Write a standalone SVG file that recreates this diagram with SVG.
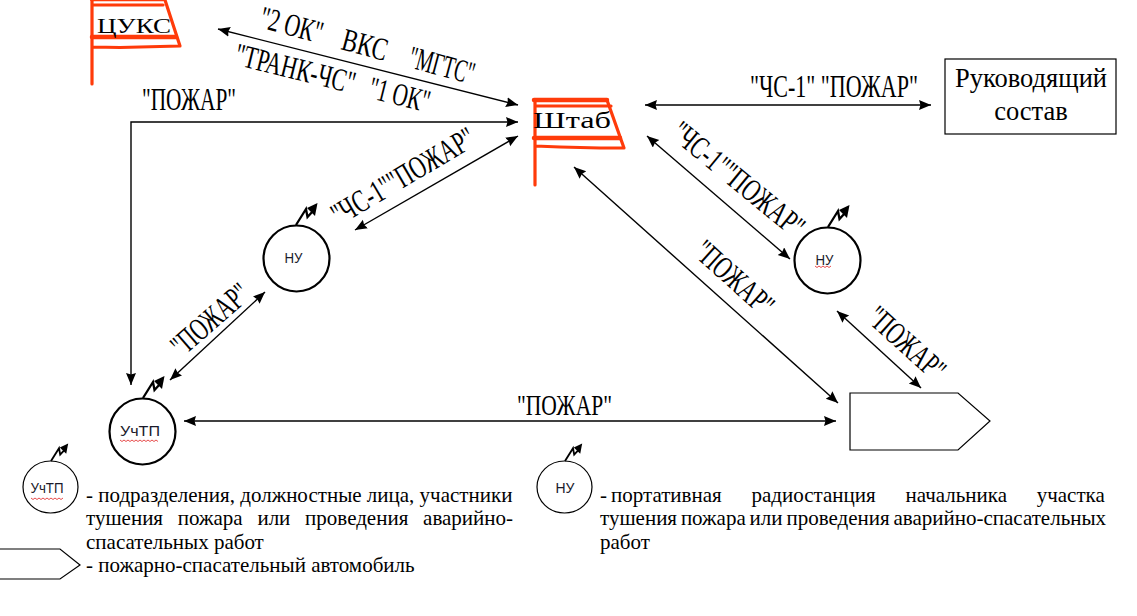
<svg xmlns="http://www.w3.org/2000/svg" width="1137" height="616" viewBox="0 0 1137 616">
<style>
.c{fill:none;stroke:#000;stroke-width:1.4}
.n{fill:#fff;stroke:#000;stroke-width:2.2}
.t{fill:#fff;stroke:#000;stroke-width:1.2}
.f{fill:none;stroke:#ff3b0a;stroke-linecap:round;stroke-linejoin:round}
.s{font-family:"Liberation Serif",serif;fill:#000}
.l{font-size:32px}
.d{font-size:21px}
.a{font-family:"Liberation Sans",sans-serif;font-size:14px;fill:#1a1a2a;text-anchor:middle}
.w{fill:none;stroke:#e02020;stroke-width:.8}
</style>
<defs>
<marker id="m" markerUnits="userSpaceOnUse" markerWidth="13" markerHeight="11" refX="12" refY="5" orient="auto-start-reverse"><path d="M0 0L12 5L0 10L1.500 5Z" fill="#000"/></marker>
<g id="z"><path d="M0 0L10-16L11.500-8L17-14" fill="none" stroke="#000" stroke-width="2.300"/><path d="M11-17L21.500-22L19-9Z" fill="#000"/></g>
</defs>
<rect width="1137" height="616" fill="#fff"/>
<g id="connectors">
<path class="c" d="M218 29L518 105" marker-start="url(#m)" marker-end="url(#m)"/>
<path class="c" d="M645 105L931 105" marker-start="url(#m)" marker-end="url(#m)"/>
<path class="c" d="M518 122L131 122L131 385" marker-start="url(#m)" marker-end="url(#m)"/>
<path class="c" d="M518 136L355 230" marker-start="url(#m)" marker-end="url(#m)"/>
<path class="c" d="M647 136L790 259" marker-start="url(#m)" marker-end="url(#m)"/>
<path class="c" d="M574 167L838 403" marker-start="url(#m)" marker-end="url(#m)"/>
<path class="c" d="M837 311L921 388" marker-start="url(#m)" marker-end="url(#m)"/>
<path class="c" d="M265 292L170 380" marker-start="url(#m)" marker-end="url(#m)"/>
<path class="c" d="M184 421L836 421" marker-start="url(#m)" marker-end="url(#m)"/>
</g>
<g id="node-cuks">
<path class="f" stroke-width="3.200" d="M92 84V0M92 5H163M92 47L120 47.500L180 46L165 0"/>
<path class="f" stroke-width="4.500" d="M92 37H176M92 -1H163"/>
<text class="s" x="97" y="33" font-size="22" textLength="74" lengthAdjust="spacingAndGlyphs">ЦУКС</text>
</g>
<g id="node-shtab">
<path class="f" stroke-width="4.500" d="M534 100H607M534 138H620"/>
<path class="f" stroke-width="3.200" d="M535 185V100M535 106H611M535 146L560 147L600 148H624L607 100"/>
<text class="s" x="533" y="128" font-size="24" textLength="78" lengthAdjust="spacingAndGlyphs">Штаб</text>
</g>
<g id="node-ruk">
<rect class="t" x="945" y="59" width="171" height="75"/>
<text class="s" x="1031" y="87" font-size="26.500" text-anchor="middle">Руководящий</text>
<text class="s" x="1031" y="120" font-size="26.500" text-anchor="middle">состав</text>
</g>
<g id="node-nu1">
<circle class="n" cx="296.500" cy="258.500" r="33"/>
<use href="#z" x="296" y="225"/>
<text class="a" x="293.500" y="263" textLength="18" lengthAdjust="spacingAndGlyphs">НУ</text>
</g>
<g id="node-nu2">
<circle class="n" cx="827.500" cy="260.500" r="33"/>
<use href="#z" x="828" y="227"/>
<text class="a" x="824.500" y="265" textLength="18" lengthAdjust="spacingAndGlyphs">НУ</text>
<path class="w" d="M815 266l2 1.500l2-1.500l2 1.500l2-1.500l2 1.500l2-1.500l2 1.500l2-1.500"/>
</g>
<g id="node-uctp">
<circle class="n" cx="142.500" cy="431.500" r="33"/>
<use href="#z" x="143" y="398"/>
<text class="a" x="140" y="436" font-size="15" textLength="40" lengthAdjust="spacingAndGlyphs">УчТП</text>
<path class="w" d="M120 440l2 1.500l2-1.500l2 1.500l2-1.500l2 1.500l2-1.500l2 1.500l2-1.500l2 1.500l2-1.500l2 1.500l2-1.500l2 1.500l2-1.500l2 1.500l2-1.500l2 1.500l2-1.500l2 1.500"/>
</g>
<g id="node-car">
<path class="t" d="M850 393H958L990 421L958 450H850Z"/>
</g>
<g id="labels">
<g transform="translate(258 27) rotate(15)">
<text class="s l" x="0" textLength="64" lengthAdjust="spacingAndGlyphs">"2 ОК"</text>
<text class="s l" x="85" textLength="46" lengthAdjust="spacingAndGlyphs">ВКС</text>
<text class="s l" x="154" textLength="67" lengthAdjust="spacingAndGlyphs">"МГТС"</text>
</g>
<g transform="translate(233 64) rotate(14)">
<text class="s l" x="0" textLength="123" lengthAdjust="spacingAndGlyphs">"ТРАНК-ЧС"</text>
<text class="s l" x="138" textLength="62" lengthAdjust="spacingAndGlyphs">"1 ОК"</text>
</g>
<text class="s l" x="142" y="110" textLength="94" lengthAdjust="spacingAndGlyphs">"ПОЖАР"</text>
<text class="s l" transform="translate(750 97) scale(.7 1)" textLength="240" lengthAdjust="spacingAndGlyphs">"ЧС-1" "ПОЖАР"</text>
<text class="s l" transform="translate(339 226) rotate(-30.500)" textLength="161" lengthAdjust="spacingAndGlyphs">"ЧС-1""ПОЖАР"</text>
<text class="s l" transform="translate(669 136) rotate(39.500)" textLength="162" lengthAdjust="spacingAndGlyphs">"ЧС-1""ПОЖАР"</text>
<text class="s l" transform="translate(692 254) rotate(42)" textLength="95" lengthAdjust="spacingAndGlyphs">"ПОЖАР"</text>
<text class="s l" transform="translate(865 320) rotate(42)" textLength="93" lengthAdjust="spacingAndGlyphs">"ПОЖАР"</text>
<text class="s l" transform="translate(182 358) rotate(-41)" textLength="93" lengthAdjust="spacingAndGlyphs">"ПОЖАР"</text>
<text class="s" x="517" y="415" font-size="30" textLength="95" lengthAdjust="spacingAndGlyphs">"ПОЖАР"</text>
</g>
<g id="legend">
<g id="legend-uctp">
<ellipse class="t" cx="50.500" cy="487" rx="27.500" ry="26" stroke-width="1.500"/>
<use href="#z" transform="translate(51 461) scale(.8)"/>
<text class="a" x="47" y="493" textLength="33" lengthAdjust="spacingAndGlyphs">УчТП</text>
<path class="w" d="M31 498l2 1.500l2-1.500l2 1.500l2-1.500l2 1.500l2-1.500l2 1.500l2-1.500l2 1.500l2-1.500l2 1.500l2-1.500l2 1.500l2-1.500l2 1.500l2-1.500"/>
</g>
<g id="legend-nu">
<ellipse class="t" cx="564.500" cy="487" rx="27.500" ry="26" stroke-width="1.500"/>
<use href="#z" transform="translate(565 461) scale(.8)"/>
<text class="a" x="565" y="493" font-size="13">НУ</text>
</g>
<text class="s d" x="86" y="502">- подразделения, должностные лица, участники</text>
<text class="s d" x="86" y="525" word-spacing="9.500">тушения пожара или проведения аварийно-</text>
<text class="s d" x="86" y="549">спасательных работ</text>
<text class="s d" x="86" y="572">- пожарно-спасательный автомобиль</text>
<path id="legend-car" class="t" d="M-2 549H60L80 565L60 579H-2Z"/>
<text class="s d" x="600" y="502">-</text>
<text class="s d" x="611" y="502" word-spacing="24.500">портативная радиостанция начальника участка</text>
<text class="s d" x="600" y="525" word-spacing="-1.400">тушения пожара или проведения аварийно-спасательных</text>
<text class="s d" x="600" y="549">работ</text>
</g>
</svg>
